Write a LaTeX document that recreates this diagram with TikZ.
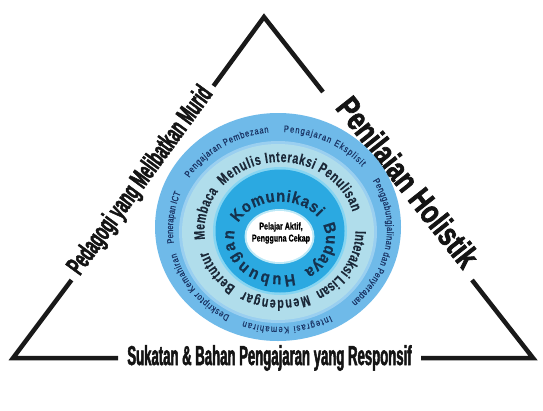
\documentclass[tikz,border=0pt]{standalone}
\usepackage{fontspec}
\setmainfont{Liberation Sans}
\usetikzlibrary{decorations.text,calc}
\newfontfamily\ringfont[FakeStretch=0.72,FakeBold=0.3]{Liberation Sans}
\newfontfamily\outfont[FakeStretch=0.8,FakeBold=0.35]{Liberation Sans}
\newfontfamily\komfont[FakeStretch=0.9,FakeBold=0.5]{Liberation Sans}
\newfontfamily\heavyB[FakeStretch=0.48,FakeBold=1.8]{Liberation Sans}
\newfontfamily\heavyL[FakeStretch=0.54,FakeBold=1.8]{Liberation Sans}
\newfontfamily\heavyR[FakeStretch=0.76,FakeBold=2]{Liberation Sans}
\newfontfamily\corefont[FakeStretch=0.72,FakeBold=0.6]{Liberation Sans}
\definecolor{outerband}{HTML}{6FBAE9}
\definecolor{outeredge}{HTML}{9ACFF0}
\definecolor{paleband}{HTML}{B0DDEB}
\definecolor{cyanedge}{HTML}{86D5F2}
\definecolor{cyanring}{HTML}{2BA9E1}
\definecolor{whiteedge}{HTML}{BDE9F7}
\definecolor{outtext}{HTML}{1A3566}
\definecolor{midtext}{HTML}{1B2838}
\definecolor{komtext}{HTML}{15324F}
\newcommand\komfmt{\komfont\bfseries\fontsize{16.5}{16.5}\selectfont}
\newcommand\midfmt{\ringfont\bfseries\fontsize{15}{15}\selectfont}
\newcommand\outfmt{\outfont\fontsize{9.5}{9.5}\selectfont}
% #1 centre, #2 start, #3 end, #4 rx, #5 ry, #6 format, #7 colour, #8 text
\newcommand\ringtext[8]{%
  \path[decorate,decoration={text along path,text align={fit to path},
        text color=#7,text={|#6|#8}}]
    ($(#1)+(#2:#4bp and #5bp)$) arc[start angle=#2,end angle=#3,x radius=#4bp,y radius=#5bp];}
\begin{document}
\begin{tikzpicture}[x=1bp,y=1bp,
  tri/.style={line width=4.5bp,line join=miter,black!90},
  trilbl/.style={text=black!92,inner sep=0pt}]
\fill[white] (0,0) rectangle (543,410);
\useasboundingbox (0,0) rectangle (543,410);

% triangle
\coordinate (A) at (264,393);
\coordinate (BL) at (13,52);
\coordinate (BR) at (533,52);
\coordinate (L1) at (213.5,324);
\coordinate (L2) at (71.5,130);
\coordinate (R1) at (323,318);
\coordinate (R2) at (472,130);
\coordinate (B1) at (118,52);
\coordinate (B2) at (421,52);
\draw[tri] (L1) -- (A) -- (R1);
\draw[tri] (L2) -- (BL) -- (B1);
\draw[tri] (B2) -- (BR) -- (R2);

% side labels
\node[trilbl,rotate=53.8,font=\heavyL\bfseries\fontsize{27}{27}\selectfont] (ped) at (141,229) {Pedagogi yang Melibatkan Murid};
\node[trilbl,rotate=-51.7,font=\heavyR\bfseries\fontsize{33}{33}\selectfont] (pen) at (408,228) {Penilaian Holistik};
\node[trilbl,font=\heavyB\bfseries\fontsize{27.5}{27.5}\selectfont] (suk) at (269.5,52) {Sukatan \& Bahan Pengajaran yang Responsif};

% rings
\fill[outerband] (278,183) ellipse [x radius=123, y radius=114];
\fill[outeredge] (278,178) ellipse [x radius=99, y radius=91];
\fill[paleband] (278,178) ellipse [x radius=96, y radius=88];
\fill[cyanedge] (280,179) ellipse [x radius=67, y radius=64];
\fill[cyanring] (280,179) ellipse [x radius=64.5, y radius=61.5];
\fill[whiteedge] (279.5,173.5) ellipse [x radius=35, y radius=27.5];
\fill[white] (279.5,173.5) ellipse [x radius=33, y radius=25.5];

\coordinate (C) at (280,179);
\coordinate (Co) at (280,180.5);
\coordinate (Ck) at (280,171.5);

% outer band
\ringtext{Co}{188}{158}{107}{97.5}{\outfmt}{outtext}{Penerapan ICT}
\ringtext{Co}{148}{96}{107}{97.5}{\outfmt}{outtext}{Pengajaran Pembezaan}
\ringtext{Co}{88}{40}{107}{97.5}{\outfmt}{outtext}{Pengajaran Eksplisit}
\ringtext{Co}{30}{-48}{107}{97.5}{\outfmt}{outtext}{Penggabungjalinan dan Penyerapan}
\ringtext{Co}{-62}{-110}{107}{97.5}{\outfmt}{outtext}{Integrasi Kemahiran}
\ringtext{Co}{-118}{-166}{107}{97.5}{\outfmt}{outtext}{Deskriptor Kemahiran}

% middle band
\ringtext{C}{187}{145}{75.5}{69}{\midfmt}{midtext}{Membaca}
\ringtext{C}{139}{104}{75.5}{69}{\midfmt}{midtext}{Menulis}
\ringtext{C}{101}{16}{75.5}{69}{\midfmt}{midtext}{Interaksi Penulisan}
\ringtext{C}{0}{-62}{75.5}{69}{\midfmt}{midtext}{Interaksi Lisan}
\ringtext{C}{-68}{-119}{75.5}{69}{\midfmt}{midtext}{Mendengar}
\ringtext{C}{-126}{-163}{75.5}{69}{\midfmt}{midtext}{Bertutur}

% cyan ring
\ringtext{Ck}{155}{35}{46}{37}{\komfmt}{komtext}{Komunikasi}
\ringtext{Ck}{22}{-58}{46}{37}{\komfmt}{komtext}{Budaya}
\ringtext{Ck}{-72}{-192}{46}{37}{\komfmt}{komtext}{Hubungan}

% centre
\node[align=center,inner sep=0pt,font=\corefont\bfseries\fontsize{10}{12}\selectfont] (core) at (281,177)
  {Pelajar Aktif,\\Pengguna Cekap};
\end{tikzpicture}
\end{document}
